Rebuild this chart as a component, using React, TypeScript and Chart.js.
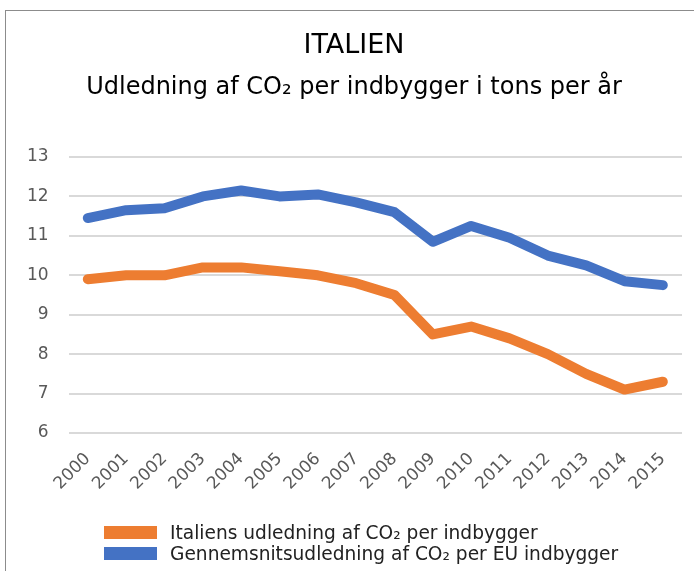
import React, { useEffect, useRef } from "react";
import { Chart, registerables } from "chart.js";

Chart.register(...registerables);

const years = ["2000","2001","2002","2003","2004","2005","2006","2007","2008","2009","2010","2011","2012","2013","2014","2015"];
const italy = [9.9, 10.0, 10.0, 10.2, 10.2, 10.1, 10.0, 9.8, 9.5, 8.5, 8.7, 8.4, 8.0, 7.5, 7.1, 7.3];
const euAvg = [11.45, 11.65, 11.7, 12.0, 12.15, 12.0, 12.05, 11.85, 11.6, 10.85, 11.25, 10.95, 10.5, 10.25, 9.85, 9.75];
const yTicks = [6, 7, 8, 9, 10, 11, 12, 13];
const titleText = "ITALIEN";
const subtitleText = "Udledning af CO₂ per indbygger i tons per år";
const seriesNames = ["Italiens udledning af CO₂ per indbygger", "Gennemsnitsudledning af CO₂ per EU indbygger"];
const colors = ["#ED7D31", "#4472C4"];

const FONT = "'DejaVu Sans', Verdana, sans-serif";

export default function App() {
  const ref = useRef<HTMLCanvasElement | null>(null);
  useEffect(() => {
    if (!ref.current) return;
    const chart = new Chart(ref.current, {
      type: "line",
      data: {
        labels: years,
        datasets: [
          { label: seriesNames[0], data: italy, borderColor: colors[0], backgroundColor: colors[0], borderWidth: 10, pointRadius: 0, tension: 0, borderCapStyle: "round", borderJoinStyle: "round" },
          { label: seriesNames[1], data: euAvg, borderColor: colors[1], backgroundColor: colors[1], borderWidth: 10, pointRadius: 0, tension: 0, borderCapStyle: "round", borderJoinStyle: "round" },
        ],
      },
      options: {
        animation: false,
        responsive: false,
        layout: { padding: { left: 7, right: 12, top: 157, bottom: 69 } },
        plugins: {
          legend: { display: false },
          tooltip: { enabled: false },
          title: { display: false },
          subtitle: { display: false },
        },
        scales: {
          x: {
            offset: true,
            grid: { display: false },
            border: { display: false },
            ticks: { color: "#595959", font: { family: FONT, size: 17 }, maxRotation: 45, minRotation: 45, padding: 8 },
          },
          y: {
            min: 6,
            max: 13,
            afterBuildTicks: (axis: any) => { axis.ticks = yTicks.map((v) => ({ value: v })); },
            grid: { color: "#d9d9d9", lineWidth: 2, drawTicks: false },
            border: { display: false },
            ticks: { color: "#595959", font: { family: FONT, size: 17 }, padding: 20 },
          },
        },
      },
    });
    return () => chart.destroy();
  }, []);

  return (
    <div style={{ position: "fixed", left: 0, top: 0, width: 694, height: 571, overflow: "hidden", background: "#fff" }}>
      <div style={{ position: "absolute", left: 5, top: 10, width: 760, height: 640, border: "1.5px solid #8c8c8c" }} />
      <canvas ref={ref} width={694} height={571} style={{ position: "absolute", left: 0, top: 0 }} />
      <div style={{ position: "absolute", left: 0, width: 708, top: 27, lineHeight: "34px", fontSize: 27, fontFamily: FONT, color: "#000", textAlign: "center", whiteSpace: "nowrap" }}>{titleText}</div>
      <div style={{ position: "absolute", left: 0, width: 708, top: 71, lineHeight: "30px", fontSize: 24, fontFamily: FONT, color: "#000", textAlign: "center", whiteSpace: "nowrap" }}>{subtitleText}</div>
      <div style={{ position: "absolute", left: 104, top: 522, fontFamily: FONT, fontSize: 18.6, color: "#222", lineHeight: "21px" }}>
        {seriesNames.map((n, i) => (
          <div key={n} style={{ display: "flex", alignItems: "center", height: 21 }}>
            <span style={{ display: "inline-block", width: 53, height: 13, background: colors[i], marginRight: 13 }} />
            <span>{n}</span>
          </div>
        ))}
      </div>
    </div>
  );
}
